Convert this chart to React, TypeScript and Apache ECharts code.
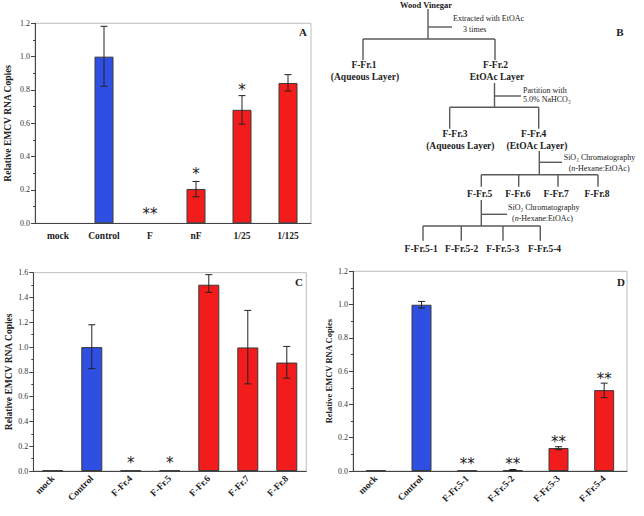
import React, { useEffect, useRef } from "react";
import * as echarts from "echarts";

const FONT = "'Liberation Serif', 'Times New Roman', serif";
const STAR_FONT = "'DejaVu Sans', sans-serif";

// Panel A
const catsA = ["mock", "Control", "F", "nF", "1/25", "1/125"];
const valsA = [0, 1.0, 0, 0.206, 0.681, 0.842];
const errLoA = [null, 0.822, null, 0.159, 0.595, 0.794];
const errHiA = [null, 1.182, null, 0.251, 0.766, 0.892];
const starsA = ["", "", "**", "*", "*", ""];
const starYA = [null, null, 0.07, 0.306, 0.81, null];

// Panel C
const catsC = ["mock", "Control", "F-Fr.4", "F-Fr.5", "F-Fr.6", "F-Fr.7", "F-Fr.8"];
const valsC = [0.005, 1.0, 0.005, 0.005, 1.503, 0.997, 0.875];
const errLoC = [null, 0.826, null, null, 1.441, 0.703, 0.749];
const errHiC = [null, 1.18, null, null, 1.584, 1.296, 1.005];
const starsC = ["", "", "*", "*", "", "", ""];
const starYC = [null, null, 0.077, 0.077, null, null, null];

// Panel D
const catsD = ["mock", "Control", "F-Fr.5-1", "F-Fr.5-2", "F-Fr.5-3", "F-Fr.5-4"];
const valsD = [0.004, 0.999, 0.003, 0.005, 0.138, 0.486];
const errLoD = [null, 0.979, null, 0.002, 0.128, 0.441];
const errHiD = [null, 1.019, null, 0.009, 0.146, 0.528];
const starsD = ["", "", "**", "**", "**", "**"];
const starYD = [null, null, 0.056, 0.056, 0.187, 0.566];

const yMaxA = 1.2;
const yMaxC = 1.6;
const yMaxD = 1.2;
const yInterval = 0.2;
const yName = "Relative EMCV RNA Copies";

const BLUE = "#2e4fe2";
const RED = "#f21c1c";
const TEAL = "#3f9c80";
const EDGE = "#3a3a3a";
const INK = "#222";

function barData(vals: number[]) {
  return vals.map((v, i) => ({
    value: v,
    itemStyle: {
      color: i === 0 ? TEAL : i === 1 ? BLUE : RED,
      borderColor: v === 0 ? "rgba(0,0,0,0)" : EDGE,
      borderWidth: v === 0 ? 0 : 1,
    },
  }));
}

function errData(lo: (number | null)[], hi: (number | null)[]) {
  return lo
    .map((l, i) => (l == null || hi[i] == null ? null : [i, l, hi[i]]))
    .filter((d) => d !== null);
}

function starData(stars: string[], ys: (number | null)[]) {
  return stars
    .map((s, i) => (s && ys[i] != null ? [i, ys[i]] : null))
    .filter((d) => d !== null);
}

function renderErr(_p: any, api: any) {
  const x = api.value(0);
  const a = api.coord([x, api.value(2)]);
  const b = api.coord([x, api.value(1)]);
  const w = 3.5;
  const st = { stroke: INK, lineWidth: 1 };
  return {
    type: "group",
    children: [
      { type: "line", shape: { x1: a[0], y1: a[1], x2: b[0], y2: b[1] }, style: st },
      { type: "line", shape: { x1: a[0] - w, y1: a[1], x2: a[0] + w, y2: a[1] }, style: st },
      { type: "line", shape: { x1: b[0] - w, y1: b[1], x2: b[0] + w, y2: b[1] }, style: st },
    ],
  };
}

function renderStars(stars: string[]) {
  return (_p: any, api: any) => {
    const i = api.value(0);
    const p = api.coord([i, api.value(1)]);
    return {
      type: "text",
      x: p[0],
      y: p[1] + 2,
      style: {
        text: stars[i],
        fill: INK,
        stroke: "none",
        fontSize: 15,
        fontFamily: STAR_FONT,
        align: "center",
        verticalAlign: "middle",
      },
    };
  };
}

function xAxis(gi: number, cats: string[], rotate: number) {
  return {
    type: "category",
    gridIndex: gi,
    data: cats,
    axisLine: { lineStyle: { color: "#444", width: 1 } },
    axisTick: { alignWithLabel: true, length: 3, lineStyle: { color: "#444" } },
    axisLabel: {
      interval: 0,
      rotate,
      margin: rotate ? 6 : 8,
      color: INK,
      fontFamily: FONT,
      fontWeight: "bold",
      fontSize: 9.5,
    },
  };
}

function yAxis(gi: number, max: number, nameSize: number, nameGap: number) {
  return {
    type: "value",
    gridIndex: gi,
    min: 0,
    max,
    interval: yInterval,
    name: yName,
    nameLocation: "middle",
    nameGap,
    nameTextStyle: { fontFamily: FONT, fontWeight: "bold", fontSize: nameSize, color: INK },
    axisLine: { show: true, lineStyle: { color: "#444", width: 1 } },
    axisTick: { show: true, length: 4, lineStyle: { color: "#444" } },
    minorTick: { show: true, splitNumber: 2, length: 2, lineStyle: { color: "#444" } },
    splitLine: { show: false },
    axisLabel: {
      margin: 5,
      color: "#333",
      fontFamily: FONT,
      fontSize: 8,
      formatter: (v: number) => v.toFixed(1),
    },
  };
}

const LINE = { stroke: "#5a5a5a", lineWidth: 1.4 };
function ln(x1: number, y1: number, x2: number, y2: number) {
  return { type: "line", shape: { x1, y1, x2, y2 }, style: LINE, silent: true };
}
function tx(text: string, x: number, y: number, bold: boolean, align = "center", size?: number) {
  return {
    type: "text",
    x,
    y,
    silent: true,
    style: {
      text,
      x: 0,
      y: 0,
      fill: INK,
      fontFamily: FONT,
      fontWeight: bold ? "bold" : "normal",
      fontSize: size ?? (bold ? 9.5 : 8),
      align,
      verticalAlign: "middle",
      rich: {
        i: { fontStyle: "italic", fontFamily: FONT, fontSize: 8, fill: INK },
      },
    },
  };
}

const flowBold = {
  root: "Wood Vinegar",
  f1: "F-Fr.1",
  aq: "(Aqueous Layer)",
  f2: "F-Fr.2",
  f2b: "EtOAc Layer",
  f3: "F-Fr.3",
  f4: "F-Fr.4",
  f4b: "(EtOAc Layer)",
};
const flowSteps = ["Extracted with EtOAc", "3 times", "Partition with", "5.0% NaHCO\u2083", "SiO\u2082 Chromatography", "({i|n}-Hexane:EtOAc)"];
const frLevel3 = ["F-Fr.5", "F-Fr.6", "F-Fr.7", "F-Fr.8"];
const frLevel4 = ["F-Fr.5-1", "F-Fr.5-2", "F-Fr.5-3", "F-Fr.5-4"];

function flowchart() {
  const g: any[] = [];
  g.push(tx(flowBold.root, 426, 5, true, "center", 8.5));
  g.push(ln(428, 9, 428, 39));
  g.push(ln(428, 27, 452, 27));
  g.push(tx(flowSteps[0], 453, 18.5, false, "left"));
  g.push(tx(flowSteps[1], 463, 29.5, false, "left"));
  g.push(ln(363, 39, 495, 39));
  g.push(ln(363, 39, 363, 60));
  g.push(ln(495, 39, 495, 60));
  g.push(tx(flowBold.f1, 364, 65, true));
  g.push(tx(flowBold.aq, 365, 76.5, true));
  g.push(tx(flowBold.f2, 495.5, 65, true));
  g.push(tx(flowBold.f2b, 497, 76.5, true));
  g.push(ln(494.5, 83, 494.5, 107.3));
  g.push(ln(494.5, 96, 521, 96));
  g.push(tx(flowSteps[2], 523, 90, false, "left"));
  g.push(tx(flowSteps[3], 523, 99.5, false, "left"));
  g.push(ln(449.7, 107.3, 538.7, 107.3));
  g.push(ln(449.7, 107.3, 449.7, 128.7));
  g.push(ln(538.7, 107.3, 538.7, 128.7));
  g.push(tx(flowBold.f3, 455, 133.5, true));
  g.push(tx(flowBold.aq, 460.3, 145.5, true));
  g.push(tx(flowBold.f4, 533.7, 133.5, true));
  g.push(tx(flowBold.f4b, 537, 145.5, true));
  g.push(ln(539.3, 151, 539.3, 174.7));
  g.push(ln(539.3, 162.3, 562, 162.3));
  g.push(tx(flowSteps[4], 563.7, 157, false, "left"));
  g.push(tx(flowSteps[5], 568.7, 168, false, "left"));
  g.push(ln(481.3, 174.7, 598, 174.7));
  const xs3 = [481.3, 518.7, 558, 598];
  const lx3 = [479.7, 517.8, 556.2, 597];
  xs3.forEach((x) => g.push(ln(x, 174.7, x, 186.7)));
  frLevel3.forEach((t, i) => g.push(tx(t, lx3[i], 193.5, true)));
  g.push(ln(481.3, 200, 481.3, 226));
  g.push(ln(481.3, 214.3, 507, 214.3));
  g.push(tx(flowSteps[4], 508, 207.5, false, "left"));
  g.push(tx(flowSteps[5], 512, 218.5, false, "left"));
  g.push(ln(423, 226, 540.3, 226));
  const xs4 = [423, 461.3, 503, 540.3];
  const lx4 = [421.2, 461.7, 502.8, 544.5];
  xs4.forEach((x) => g.push(ln(x, 226, x, 240.7)));
  frLevel4.forEach((t, i) => g.push(tx(t, lx4[i], 249, true)));
  return g;
}

export default function App() {
  const ref = useRef<HTMLDivElement>(null);
  useEffect(() => {
    if (!ref.current) return;
    const chart = echarts.init(ref.current, undefined, { renderer: "svg" });
    const gridBase = { show: true, borderColor: "#bdbdbd", borderWidth: 1, backgroundColor: "transparent", outerBoundsMode: "none", containLabel: false };
    const starSeries = (ax: number, stars: string[], ys: (number | null)[]) => ({
      type: "custom",
      xAxisIndex: ax,
      yAxisIndex: ax,
      renderItem: renderStars(stars),
      data: starData(stars, ys),
      encode: { x: 0, y: 1 },
      itemStyle: { color: INK },
      z: 6,
    });
    const errSeries = (ax: number, lo: (number | null)[], hi: (number | null)[]) => ({
      type: "custom",
      xAxisIndex: ax,
      yAxisIndex: ax,
      renderItem: renderErr,
      data: errData(lo, hi),
      encode: { x: 0, y: [1, 2] },
      itemStyle: { color: INK },
      z: 5,
    });
    const option: any = {
      animation: false,
      backgroundColor: "#fff",
      grid: [
        { ...gridBase, left: 35, top: 23.3, width: 276, height: 200 },
        { ...gridBase, left: 33.3, top: 272.7, width: 273, height: 198.3 },
        { ...gridBase, left: 353, top: 271.3, width: 274, height: 199.7 },
      ],
      xAxis: [xAxis(0, catsA, 0), xAxis(1, catsC, 45), xAxis(2, catsD, 45)],
      yAxis: [yAxis(0, yMaxA, 9.5, 22), yAxis(1, yMaxC, 9.5, 19), yAxis(2, yMaxD, 8.5, 20)],
      series: [
        { type: "bar", xAxisIndex: 0, yAxisIndex: 0, barWidth: 19, data: barData(valsA) },
        { type: "bar", xAxisIndex: 1, yAxisIndex: 1, barWidth: 21, data: barData(valsC) },
        { type: "bar", xAxisIndex: 2, yAxisIndex: 2, barWidth: 20, data: barData(valsD) },
        errSeries(0, errLoA, errHiA),
        errSeries(1, errLoC, errHiC),
        errSeries(2, errLoD, errHiD),
        starSeries(0, starsA, starYA),
        starSeries(1, starsC, starYC),
        starSeries(2, starsD, starYD),
      ],
      graphic: [
        tx("A", 303, 32, true, "center", 11),
        tx("B", 620, 32, true, "center", 11),
        tx("C", 299, 281.5, true, "center", 11),
        tx("D", 621, 281.5, true, "center", 11),
        ...flowchart(),
      ],
    };
    chart.setOption(option);
    return () => chart.dispose();
  }, []);
  return (
    <div
      ref={ref}
      style={{ position: "absolute", left: 0, top: 0, width: 644, height: 516, background: "#fff" }}
    />
  );
}
